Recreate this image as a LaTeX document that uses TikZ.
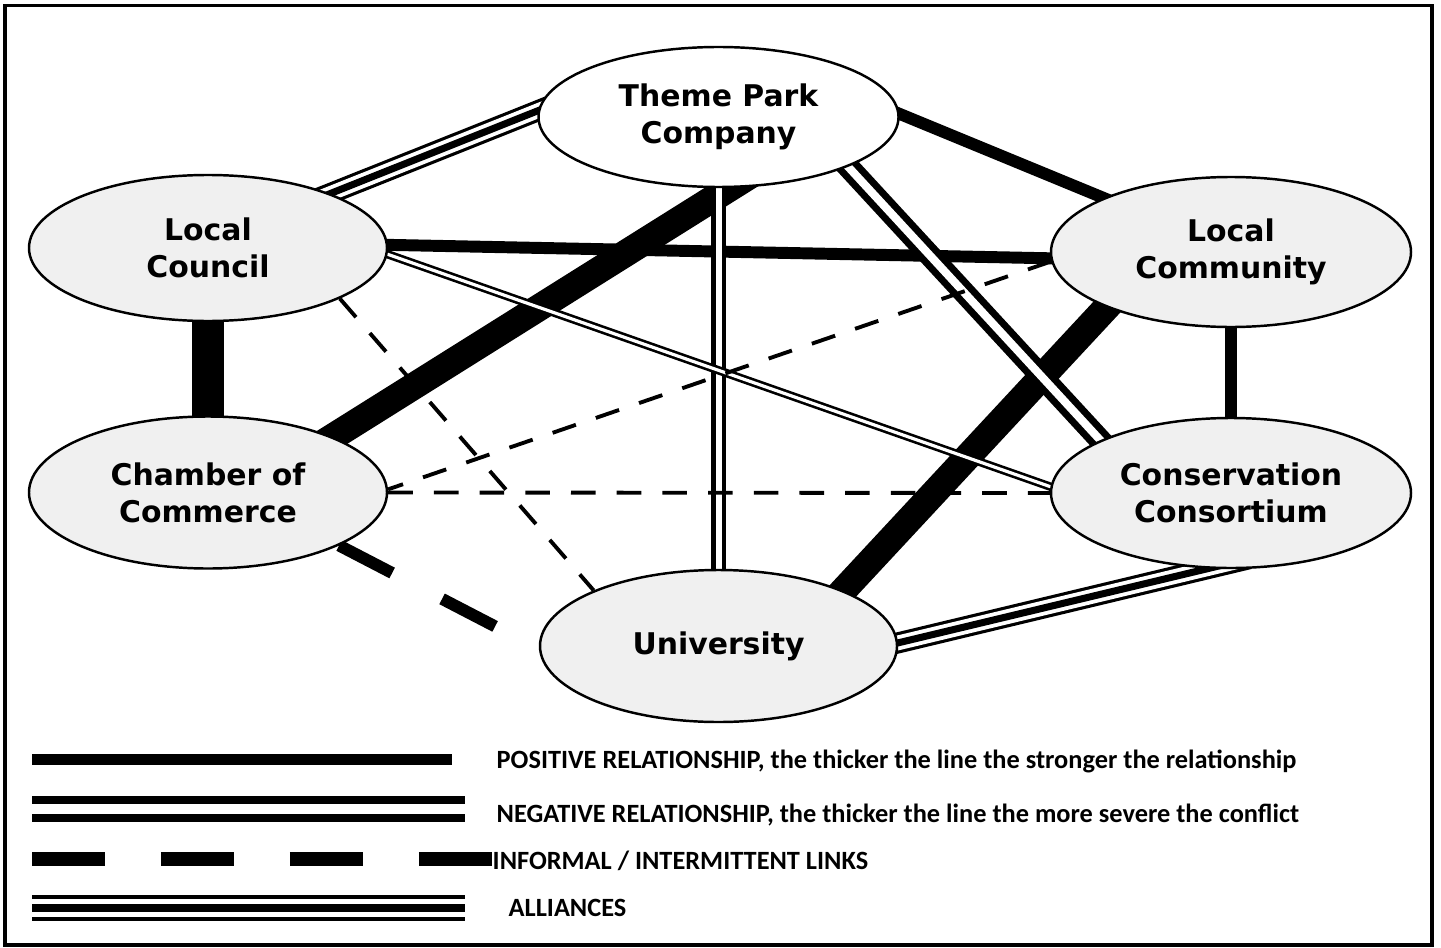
\documentclass[tikz,border=0pt]{standalone}
\usepackage{fontspec}
\setmainfont{DejaVu Sans}
\newfontfamily\legendfont{Carlito}
\usepackage{tikz}
\usetikzlibrary{shapes,backgrounds,calc}

\begin{document}
\begin{tikzpicture}[
  actor/.style={draw, ellipse, line width=0.7pt, fill=black!6, inner sep=0pt, align=center,
    font=\fontsize{8.5}{10.5}\selectfont\bfseries},
  into/.style={shorten <=-8pt, shorten >=-8pt},
  posline/.style={line width=3.4pt},
  posthick/.style={line width=7.7pt},
  negline/.style={double, line width=1.3pt, double distance=1.7pt},
  infline/.style={line width=1.1pt, dash pattern=on 7pt off 6pt},
  infthick/.style={line width=3.4pt, dash pattern=on 17pt off 16pt},
  allyline/.style={double, line width=0.9pt, double distance=4.2pt},
  allymid/.style={line width=2pt},
  legend/.style={anchor=base west, inner sep=0pt, font=\legendfont\fontsize{7.5}{9}\selectfont\bfseries}
]
\useasboundingbox (0,0) rectangle (14.41,-9.47);
\draw[line width=1.1pt] (0.05,-0.055) rectangle (14.32,-9.45);
%
\node[actor, fill=white, minimum width=3.6cm, minimum height=1.40cm] (TP) at (7.185,-1.17) {Theme Park\\Company};
\node[actor, minimum width=3.58cm, minimum height=1.46cm] (LC) at (2.08,-2.48) {Local\\Council};
\node[actor, minimum width=3.6cm, minimum height=1.50cm] (LM) at (12.31,-2.52) {Local\\Community};
\node[actor, minimum width=3.58cm, minimum height=1.52cm] (CH) at (2.08,-4.925) {Chamber of\\Commerce};
\node[actor, minimum width=3.6cm, minimum height=1.50cm] (CS) at (12.31,-4.93) {Conservation\\Consortium};
\node[actor, minimum width=3.57cm, minimum height=1.52cm] (UN) at (7.185,-6.46) {University};
%
\begin{pgfonlayer}{background}
% positive
\draw[posline, into] (TP.1) -- (LM.157);
\draw[posthick, into] (TP.279) -- (CH.24);
\draw[posline, into] (LC.1) -- (LM.182);
\draw[posthick, line width=9pt, into] (LC.south) -- (CH.north);
\draw[posthick, into] (LM.204) -- (UN.24);
\draw[posline, into] (LM.south) -- (CS.north);
% negative
\draw[negline, into] (TP.south) -- (UN.north);
\draw[negline, line width=2pt, double distance=2.3pt, into] (TP.339) -- (CS.158);
\draw[negline, line width=0.75pt, double distance=0.9pt, into] (LC.358) -- (CS.178);
% informal
\draw[infline] (LC.339) -- (UN.156);
\draw[infline] (LM.183) -- (CH.1);
\draw[infline] (CH.east) -- (CS.west);
\draw[infthick] (CH.338) -- (UN.181);
% alliances
\draw[allyline, into] (TP.178) -- (LC.24);
\draw[allymid, into] (TP.178) -- (LC.24);
\draw[allyline, into, shorten >=-12pt] (UN.1) -- (CS.253);
\draw[allymid, into, shorten >=-12pt] (UN.1) -- (CS.253);
\end{pgfonlayer}
%
% legend
\draw[line width=3.1pt] (0.32,-7.595) -- (4.52,-7.595);
\draw[double, line width=2.3pt, double distance=2.6pt] (0.32,-8.09) -- (4.65,-8.09);
\draw[line width=4pt, dash pattern=on 20.8pt off 15.9pt] (0.32,-8.59) -- (4.92,-8.59);
\draw[double, line width=1.14pt, double distance=5.1pt] (0.32,-9.08) -- (4.65,-9.08);
\draw[line width=2.3pt] (0.32,-9.08) -- (4.65,-9.08);
\node[legend] (Lpos) at (4.96,-7.68) {POSITIVE RELATIONSHIP, the thicker the line the stronger the relationship};
\node[legend] (Lneg) at (4.96,-8.22) {NEGATIVE RELATIONSHIP, the thicker the line the more severe the conflict};
\node[legend] (Linf) at (4.92,-8.69) {INFORMAL / INTERMITTENT LINKS};
\node[legend] (Lall) at (5.08,-9.16) {ALLIANCES};
\end{tikzpicture}
\end{document}
